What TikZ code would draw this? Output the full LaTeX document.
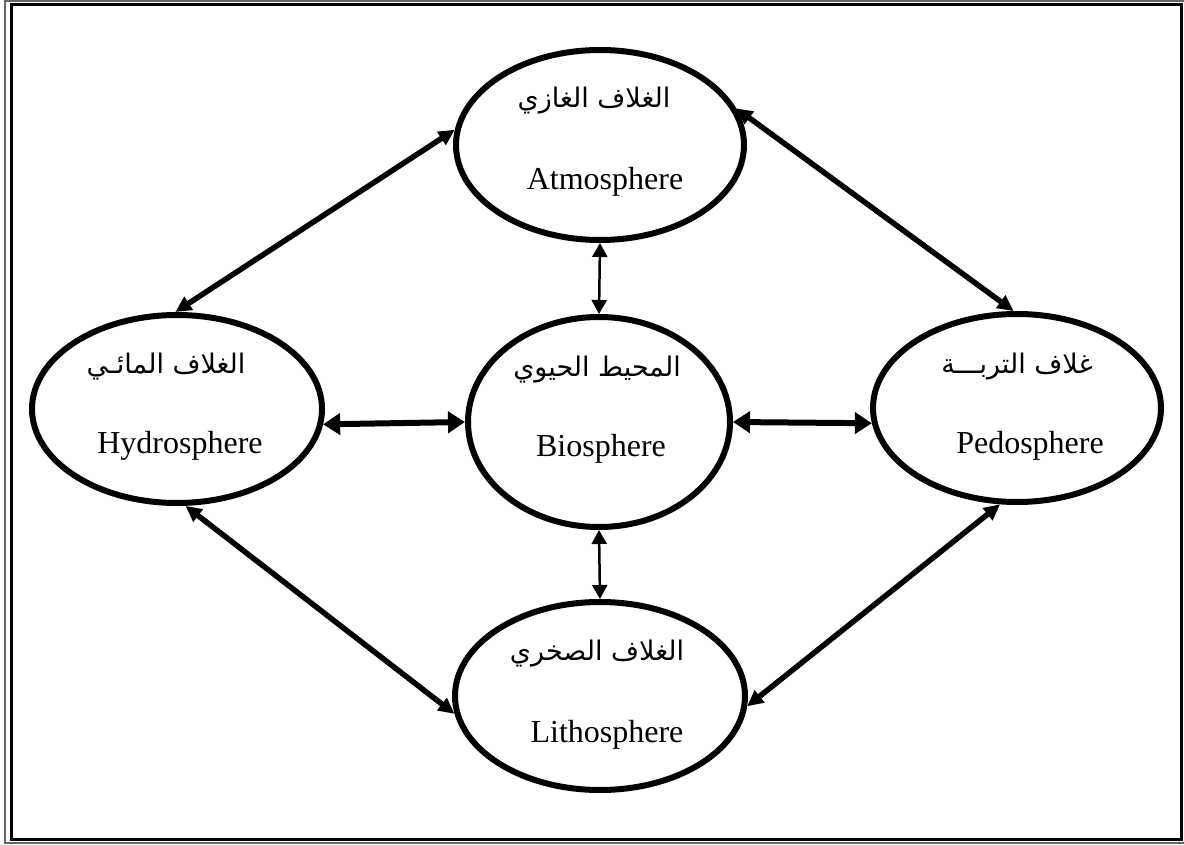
\documentclass[tikz,border=0pt]{standalone}
\usepackage{fontspec}
\setmainfont{Liberation Serif}
\newfontfamily\arabicfont[Script=Arabic]{DejaVu Sans}
\TeXXeTstate=1
\usetikzlibrary{shapes.geometric,arrows.meta}
\begin{document}
\begin{tikzpicture}[x=1pt,y=-1pt,
  sphere/.style={draw,ellipse,line width=6pt,inner sep=0pt},
  en/.style={anchor=base,inner sep=0pt,font=\fontsize{32}{36}\selectfont},
  ar/.style={anchor=base,inner sep=0pt,font=\fontsize{27}{32}\selectfont\arabicfont},
  link/.style={line width=5.5pt,{Triangle[length=16pt,width=15pt]}-{Triangle[length=16pt,width=15pt]}},
  hlink/.style={line width=6pt,{Triangle[length=17pt,width=21pt]}-{Triangle[length=17pt,width=21pt]}},
  vlink/.style={line width=2.5pt,{Triangle[length=14pt,width=15pt]}-{Triangle[length=14pt,width=15pt]}}]
\useasboundingbox (0,0) rectangle (1184,845);
% frame
\draw[black!60,line width=1.5pt] (5,1) rectangle (1187,843);
\draw[black,line width=3pt] (11,5) rectangle (1181,839);
% spheres
\node[sphere,minimum width=288pt,minimum height=190pt] (atm) at (600,145) {};
\node[sphere,minimum width=290pt,minimum height=188pt] (hyd) at (177,409) {};
\node[sphere,minimum width=262pt,minimum height=210pt] (bio) at (599,422) {};
\node[sphere,minimum width=288pt,minimum height=188pt] (ped) at (1017,408) {};
\node[sphere,minimum width=290pt,minimum height=188pt] (lit) at (600,696) {};
% texts
\node[ar] (atmAr) at (594,108) {\beginR الغلاف الغازي\endR};
\node[en] (atmEn) at (605,190) {Atmosphere};
\node[ar] (hydAr) at (166,373) {\beginR الغلاف المائـي\endR};
\node[en] (hydEn) at (180,453) {Hydrosphere};
\node[ar] (bioAr) at (597,376) {\beginR المحيط الحيوي\endR};
\node[en] (bioEn) at (601,456) {Biosphere};
\node[ar] (pedAr) at (1017,373) {\beginR غلاف التربـــة\endR};
\node[en] (pedEn) at (1030,453) {Pedosphere};
\node[ar] (litAr) at (597,660) {\beginR الغلاف الصخري\endR};
\node[en] (litEn) at (607,742) {Lithosphere};
% connectors
\draw[link] (atm.174.4) -- (hyd.91);
\draw[link] (atm.15.5) -- (ped.92.4);
\draw[link] (hyd.275) -- (lit.187.3);
\draw[link] (ped.260) -- (lit.356);
\draw[hlink] (hyd.354.5) -- (bio.180);
\draw[hlink] (bio.0) -- (ped.186);
\draw[vlink] (atm.270) -- (bio.90);
\draw[vlink] (bio.270) -- (lit.90);
\end{tikzpicture}
\end{document}
